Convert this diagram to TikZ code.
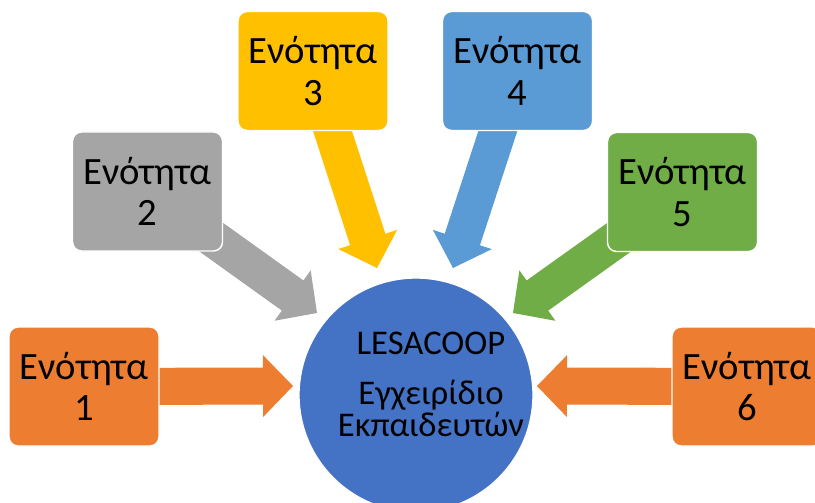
\documentclass[tikz,border=0pt]{standalone}
\usepackage{fontspec}
\setmainfont{Carlito}
\usetikzlibrary{calc,backgrounds}
\definecolor{cOrange}{HTML}{ED7D31}
\definecolor{cGray}{HTML}{A5A5A5}
\definecolor{cGold}{HTML}{FFC000}
\definecolor{cBlue}{HTML}{5B9BD5}
\definecolor{cGreen}{HTML}{70AD47}
\definecolor{cHub}{HTML}{4472C4}
\tikzset{
  unitbox/.style={rectangle, rounded corners=6.75pt, draw=white, line width=1.1pt,
    minimum width=112.5pt, minimum height=89.25pt, align=center, inner sep=0pt,
    font=\fontsize{29}{31}\selectfont, text=black},
  hub/.style={circle, fill=cHub, draw=white, line width=1pt, minimum size=175.5pt, inner sep=0pt},
  hubtext/.style={align=center, inner sep=0pt, font=\fontsize{26}{24}\selectfont, text=black}
}
% #1 start node, #2 tip coordinate, #3 colour
\newcommand\blockarrow[3]{%
  \coordinate (#2h) at ($(#2)!22.5pt!(#1.center)$);
  \fill[#3] ($(#1.center)!13.9pt!90:(#2)$) -- ($(#2h)!13.9pt!90:(#2)$)
    -- ($(#2h)!23.25pt!90:(#2)$) -- (#2) -- ($(#2h)!23.25pt!-90:(#2)$)
    -- ($(#2h)!13.9pt!-90:(#2)$) -- ($(#1.center)!13.9pt!-90:(#2)$) -- cycle;}
\begin{document}
\begin{tikzpicture}[x=0.75pt, y=-0.75pt]
  \useasboundingbox (0,0) rectangle (815,503);
  \clip (0,0) rectangle (815,503);
  % boxes
  \node[unitbox, fill=cOrange] (b1) at (84,386.5) {Ενότητα\\1};
  \node[unitbox, fill=cGray]   (b2) at (147.5,191.5) {Ενότητα\\2};
  \node[unitbox, fill=cGold]   (b3) at (313,71) {Ενότητα\\3};
  \node[unitbox, fill=cBlue]   (b4) at (517.5,71) {Ενότητα\\4};
  \node[unitbox, fill=cGreen]  (b5) at (682.5,192) {Ενότητα\\5};
  \node[unitbox, fill=cOrange] (b6) at (747,386.5) {Ενότητα\\6};
  % hub
  \node[hub] (c) at (416,395) {};
  \node[hubtext] (ct) at (431,384) {LESACOOP\\[13.5pt]Εγχειρίδιο\\Εκπαιδευτών};
  % arrow tips
  \coordinate (t1) at (293,386);
  \coordinate (t2) at (317,313);
  \coordinate (t3) at (377,268);
  \coordinate (t4) at (453,268);
  \coordinate (t5) at (513,313);
  \coordinate (t6) at (537,386);
  \begin{scope}[on background layer]
    \blockarrow{b1}{t1}{cOrange}
    \blockarrow{b2}{t2}{cGray}
    \blockarrow{b3}{t3}{cGold}
    \blockarrow{b4}{t4}{cBlue}
    \blockarrow{b5}{t5}{cGreen}
    \blockarrow{b6}{t6}{cOrange}
  \end{scope}
\end{tikzpicture}
\end{document}
